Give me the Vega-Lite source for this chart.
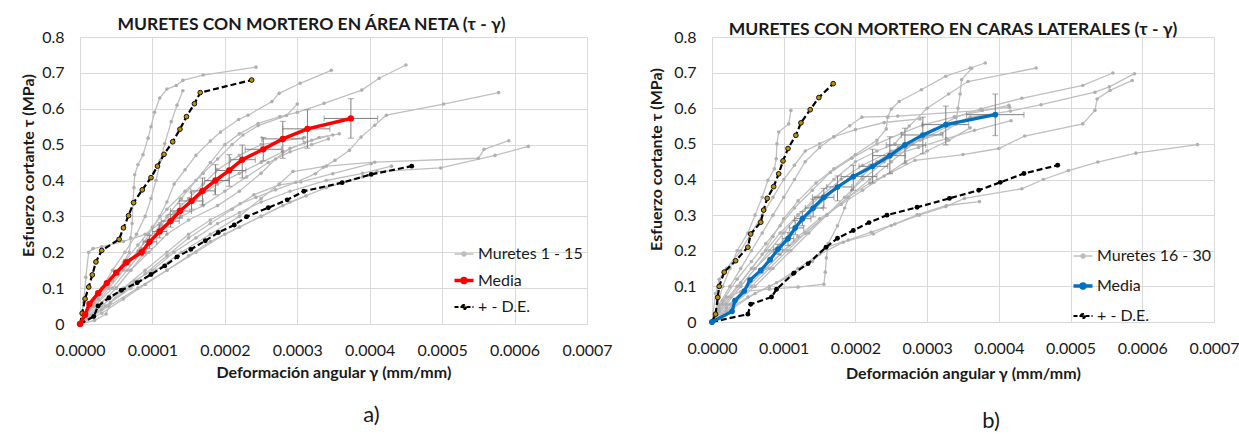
{
  "$schema": "https://vega.github.io/schema/vega-lite/v6.json",
  "padding": {"left": 19, "top": 15, "right": 0, "bottom": 0},
  "config": {
    "font": "Lato",
    "view": {"stroke": null},
    "axis": {"domainColor": "#D9D9D9", "gridColor": "#D9D9D9", "ticks": false, "labelFontSize": 16, "labelColor": "#1a1a1a", "labelFont": "Lato", "titleFont": "Lato", "titleFontSize": 16, "titleFontWeight": "bold", "titleColor": "#1a1a1a", "labelFlush": false, "labelOverlap": false},
    "axisX": {"labelPadding": 18},
    "axisY": {"labelPadding": 16},
    "title": {"font": "Lato", "fontSize": 17.5, "fontWeight": "bold", "color": "#1a1a1a", "anchor": "middle"}
  },
  "datasets": {
    "gA": [
      {"s":1,"x":0,"y":0},{"s":1,"x":0.1e-4,"y":0.03},{"s":1,"x":0.2e-4,"y":0.065},{"s":1,"x":0.35e-4,"y":0.1},{"s":1,"x":0.5e-4,"y":0.14},{"s":1,"x":0.6e-4,"y":0.17},{"s":1,"x":0.68e-4,"y":0.2},{"s":1,"x":0.7e-4,"y":0.24},{"s":1,"x":0.72e-4,"y":0.28},{"s":1,"x":0.73e-4,"y":0.34},{"s":1,"x":0.745e-4,"y":0.38},{"s":1,"x":0.755e-4,"y":0.416},{"s":1,"x":0.8e-4,"y":0.444},{"s":1,"x":0.87e-4,"y":0.472},{"s":1,"x":0.94e-4,"y":0.518},{"s":1,"x":0.98e-4,"y":0.55},{"s":1,"x":1.03e-4,"y":0.59},{"s":1,"x":1.1e-4,"y":0.63},{"s":1,"x":1.2e-4,"y":0.655},{"s":1,"x":1.33e-4,"y":0.665},{"s":1,"x":1.42e-4,"y":0.679},{"s":1,"x":1.7e-4,"y":0.694},{"s":1,"x":2.43e-4,"y":0.716},
      {"s":2,"x":0,"y":0},{"s":2,"x":0.15e-4,"y":0.05},{"s":2,"x":0.3e-4,"y":0.1},{"s":2,"x":0.45e-4,"y":0.15},{"s":2,"x":0.62e-4,"y":0.2},{"s":2,"x":0.78e-4,"y":0.25},{"s":2,"x":0.9e-4,"y":0.3},{"s":2,"x":0.98e-4,"y":0.35},{"s":2,"x":1.05e-4,"y":0.4},{"s":2,"x":1.11e-4,"y":0.456},{"s":2,"x":1.17e-4,"y":0.503},{"s":2,"x":1.26e-4,"y":0.564},{"s":2,"x":1.34e-4,"y":0.61},{"s":2,"x":1.42e-4,"y":0.65},
      {"s":3,"x":0,"y":0},{"s":3,"x":0.2e-4,"y":0.05},{"s":3,"x":0.4e-4,"y":0.1},{"s":3,"x":0.6e-4,"y":0.15},{"s":3,"x":0.8e-4,"y":0.2},{"s":3,"x":0.95e-4,"y":0.25},{"s":3,"x":1.1e-4,"y":0.3},{"s":3,"x":1.2e-4,"y":0.34},{"s":3,"x":1.3e-4,"y":0.39},{"s":3,"x":1.45e-4,"y":0.43},{"s":3,"x":1.6e-4,"y":0.47},{"s":3,"x":1.8e-4,"y":0.51},{"s":3,"x":1.94e-4,"y":0.535},{"s":3,"x":2.19e-4,"y":0.57},{"s":3,"x":2.32e-4,"y":0.582},{"s":3,"x":2.65e-4,"y":0.62},{"s":3,"x":2.75e-4,"y":0.643},{"s":3,"x":3.04e-4,"y":0.671},{"s":3,"x":3.47e-4,"y":0.707},
      {"s":4,"x":0,"y":0},{"s":4,"x":0.25e-4,"y":0.05},{"s":4,"x":0.5e-4,"y":0.1},{"s":4,"x":0.7e-4,"y":0.15},{"s":4,"x":0.9e-4,"y":0.2},{"s":4,"x":1.05e-4,"y":0.25},{"s":4,"x":1.2e-4,"y":0.3},{"s":4,"x":1.4e-4,"y":0.35},{"s":4,"x":1.6e-4,"y":0.4},{"s":4,"x":1.8e-4,"y":0.45},{"s":4,"x":2.0e-4,"y":0.5},{"s":4,"x":2.2e-4,"y":0.53},{"s":4,"x":2.46e-4,"y":0.559},{"s":4,"x":2.76e-4,"y":0.578},{"s":4,"x":3.0e-4,"y":0.59},{"s":4,"x":3.37e-4,"y":0.615},{"s":4,"x":3.89e-4,"y":0.652},{"s":4,"x":4.13e-4,"y":0.685},{"s":4,"x":4.5e-4,"y":0.722},
      {"s":5,"x":0,"y":0},{"s":5,"x":0.3e-4,"y":0.05},{"s":5,"x":0.6e-4,"y":0.1},{"s":5,"x":0.9e-4,"y":0.15},{"s":5,"x":1.2e-4,"y":0.2},{"s":5,"x":1.5e-4,"y":0.25},{"s":5,"x":1.8e-4,"y":0.29},{"s":5,"x":2.21e-4,"y":0.335},{"s":5,"x":2.43e-4,"y":0.353},{"s":5,"x":2.7e-4,"y":0.374},{"s":5,"x":2.98e-4,"y":0.395},{"s":5,"x":3.25e-4,"y":0.419},{"s":5,"x":3.36e-4,"y":0.437},{"s":5,"x":3.52e-4,"y":0.456},{"s":5,"x":3.72e-4,"y":0.484},{"s":5,"x":3.88e-4,"y":0.521},{"s":5,"x":4.07e-4,"y":0.554},{"s":5,"x":4.23e-4,"y":0.582},{"s":5,"x":5.02e-4,"y":0.613},{"s":5,"x":5.78e-4,"y":0.645},
      {"s":6,"x":0,"y":0},{"s":6,"x":0.35e-4,"y":0.05},{"s":6,"x":0.7e-4,"y":0.1},{"s":6,"x":1.05e-4,"y":0.15},{"s":6,"x":1.4e-4,"y":0.2},{"s":6,"x":1.8e-4,"y":0.25},{"s":6,"x":2.2e-4,"y":0.3},{"s":6,"x":2.5e-4,"y":0.35},{"s":6,"x":2.75e-4,"y":0.39},{"s":6,"x":2.94e-4,"y":0.425},{"s":6,"x":3.4e-4,"y":0.44},{"s":6,"x":4.07e-4,"y":0.451},{"s":6,"x":5.5e-4,"y":0.462},{"s":6,"x":5.58e-4,"y":0.487},{"s":6,"x":5.92e-4,"y":0.511},
      {"s":7,"x":0,"y":0},{"s":7,"x":0.4e-4,"y":0.05},{"s":7,"x":0.8e-4,"y":0.1},{"s":7,"x":1.2e-4,"y":0.15},{"s":7,"x":1.6e-4,"y":0.2},{"s":7,"x":2.0e-4,"y":0.25},{"s":7,"x":2.5e-4,"y":0.3},{"s":7,"x":2.9e-4,"y":0.34},{"s":7,"x":3.4e-4,"y":0.38},{"s":7,"x":3.9e-4,"y":0.41},{"s":7,"x":4.1e-4,"y":0.425},{"s":7,"x":4.98e-4,"y":0.435},{"s":7,"x":5.73e-4,"y":0.47},{"s":7,"x":6.19e-4,"y":0.495},
      {"s":8,"x":0,"y":0},{"s":8,"x":0.2e-4,"y":0.05},{"s":8,"x":0.45e-4,"y":0.1},{"s":8,"x":0.65e-4,"y":0.15},{"s":8,"x":0.85e-4,"y":0.2},{"s":8,"x":1.05e-4,"y":0.25},{"s":8,"x":1.3e-4,"y":0.3},{"s":8,"x":1.6e-4,"y":0.35},{"s":8,"x":1.9e-4,"y":0.39},{"s":8,"x":2.2e-4,"y":0.42},{"s":8,"x":2.5e-4,"y":0.45},{"s":8,"x":2.8e-4,"y":0.48},{"s":8,"x":3.1e-4,"y":0.505},{"s":8,"x":3.3e-4,"y":0.52},{"s":8,"x":3.58e-4,"y":0.53},
      {"s":9,"x":0,"y":0},{"s":9,"x":0.3e-4,"y":0.06},{"s":9,"x":0.5e-4,"y":0.1},{"s":9,"x":0.7e-4,"y":0.15},{"s":9,"x":0.95e-4,"y":0.2},{"s":9,"x":1.2e-4,"y":0.25},{"s":9,"x":1.5e-4,"y":0.29},{"s":9,"x":1.9e-4,"y":0.33},{"s":9,"x":2.2e-4,"y":0.37},{"s":9,"x":2.5e-4,"y":0.42},{"s":9,"x":2.7e-4,"y":0.46},{"s":9,"x":2.9e-4,"y":0.49},{"s":9,"x":3.2e-4,"y":0.512},{"s":9,"x":3.49e-4,"y":0.527},
      {"s":10,"x":0,"y":0},{"s":10,"x":0.25e-4,"y":0.07},{"s":10,"x":0.45e-4,"y":0.12},{"s":10,"x":0.7e-4,"y":0.18},{"s":10,"x":0.9e-4,"y":0.23},{"s":10,"x":1.1e-4,"y":0.27},{"s":10,"x":1.4e-4,"y":0.3},{"s":10,"x":1.7e-4,"y":0.33},{"s":10,"x":2.0e-4,"y":0.37},{"s":10,"x":2.3e-4,"y":0.41},{"s":10,"x":2.6e-4,"y":0.45},{"s":10,"x":2.9e-4,"y":0.48},{"s":10,"x":3.2e-4,"y":0.5},{"s":10,"x":3.43e-4,"y":0.516},
      {"s":11,"x":0,"y":0},{"s":11,"x":0.2e-4,"y":0.06},{"s":11,"x":0.4e-4,"y":0.12},{"s":11,"x":0.6e-4,"y":0.17},{"s":11,"x":0.8e-4,"y":0.22},{"s":11,"x":1.0e-4,"y":0.27},{"s":11,"x":1.2e-4,"y":0.32},{"s":11,"x":1.45e-4,"y":0.37},{"s":11,"x":1.7e-4,"y":0.42},{"s":11,"x":1.9e-4,"y":0.46},{"s":11,"x":2.1e-4,"y":0.5},{"s":11,"x":2.25e-4,"y":0.527},{"s":11,"x":2.46e-4,"y":0.553},{"s":11,"x":2.85e-4,"y":0.581},{"s":11,"x":3.0e-4,"y":0.613},
      {"s":12,"x":0,"y":0},{"s":12,"x":0.3e-4,"y":0.03},{"s":12,"x":0.6e-4,"y":0.07},{"s":12,"x":0.9e-4,"y":0.11},{"s":12,"x":1.2e-4,"y":0.15},{"s":12,"x":1.5e-4,"y":0.19},{"s":12,"x":1.8e-4,"y":0.23},{"s":12,"x":2.2e-4,"y":0.27},{"s":12,"x":2.5e-4,"y":0.3},{"s":12,"x":2.8e-4,"y":0.33},{"s":12,"x":3.12e-4,"y":0.357},
      {"s":13,"x":0,"y":0},{"s":13,"x":0.3e-4,"y":0.04},{"s":13,"x":0.6e-4,"y":0.09},{"s":13,"x":0.9e-4,"y":0.14},{"s":13,"x":1.2e-4,"y":0.19},{"s":13,"x":1.5e-4,"y":0.24},{"s":13,"x":1.8e-4,"y":0.28},{"s":13,"x":2.1e-4,"y":0.32},{"s":13,"x":2.4e-4,"y":0.36},{"s":13,"x":2.75e-4,"y":0.388},{"s":13,"x":3.05e-4,"y":0.396},{"s":13,"x":3.49e-4,"y":0.419},{"s":13,"x":4.02e-4,"y":0.447},
      {"s":14,"x":0,"y":0},{"s":14,"x":0.2e-4,"y":0.01},{"s":14,"x":0.36e-4,"y":0.028},{"s":14,"x":0.42e-4,"y":0.06},{"s":14,"x":0.55e-4,"y":0.09},{"s":14,"x":0.75e-4,"y":0.12},{"s":14,"x":1.0e-4,"y":0.15},{"s":14,"x":1.3e-4,"y":0.2},{"s":14,"x":1.6e-4,"y":0.24},{"s":14,"x":1.9e-4,"y":0.28},{"s":14,"x":2.2e-4,"y":0.31},{"s":14,"x":2.5e-4,"y":0.34},{"s":14,"x":2.9e-4,"y":0.37},{"s":14,"x":3.4e-4,"y":0.4},{"s":14,"x":3.9e-4,"y":0.42},{"s":14,"x":4.3e-4,"y":0.44},
      {"s":15,"x":0,"y":0},{"s":15,"x":0.05e-4,"y":0.06},{"s":15,"x":0.08e-4,"y":0.13},{"s":15,"x":0.12e-4,"y":0.2},{"s":15,"x":0.18e-4,"y":0.21},{"s":15,"x":0.3e-4,"y":0.215},{"s":15,"x":0.6e-4,"y":0.23},{"s":15,"x":0.9e-4,"y":0.25},{"s":15,"x":1.1e-4,"y":0.28},{"s":15,"x":1.3e-4,"y":0.31},{"s":15,"x":1.5e-4,"y":0.35},{"s":15,"x":1.7e-4,"y":0.39},{"s":15,"x":1.9e-4,"y":0.43},{"s":15,"x":2.2e-4,"y":0.47},{"s":15,"x":2.5e-4,"y":0.5},{"s":15,"x":2.8e-4,"y":0.51},{"s":15,"x":3.1e-4,"y":0.52}
    ],
    "mA": [
      {"x":0,"y":0},{"x":0.07e-4,"y":0.026},{"x":0.13e-4,"y":0.056},{"x":0.25e-4,"y":0.086},{"x":0.37e-4,"y":0.114},{"x":0.5e-4,"y":0.143},{"x":0.64e-4,"y":0.172},{"x":0.85e-4,"y":0.2},{"x":0.96e-4,"y":0.229},{"x":1.1e-4,"y":0.258},{"x":1.25e-4,"y":0.287},{"x":1.38e-4,"y":0.315},{"x":1.54e-4,"y":0.343},{"x":1.69e-4,"y":0.371},{"x":1.87e-4,"y":0.4},{"x":2.06e-4,"y":0.428},{"x":2.24e-4,"y":0.458},{"x":2.53e-4,"y":0.487},{"x":2.8e-4,"y":0.516},{"x":3.14e-4,"y":0.544},{"x":3.74e-4,"y":0.573}
    ],
    "dA": [
      {"s":"up","x":0,"y":0},{"s":"up","x":0.03e-4,"y":0.03},{"s":"up","x":0.07e-4,"y":0.07},{"s":"up","x":0.12e-4,"y":0.103},{"s":"up","x":0.17e-4,"y":0.137},{"s":"up","x":0.22e-4,"y":0.173},{"s":"up","x":0.3e-4,"y":0.205},{"s":"up","x":0.54e-4,"y":0.236},{"s":"up","x":0.6e-4,"y":0.268},{"s":"up","x":0.67e-4,"y":0.302},{"s":"up","x":0.74e-4,"y":0.338},{"s":"up","x":0.86e-4,"y":0.374},{"s":"up","x":0.98e-4,"y":0.408},{"s":"up","x":1.07e-4,"y":0.44},{"s":"up","x":1.16e-4,"y":0.473},{"s":"up","x":1.28e-4,"y":0.508},{"s":"up","x":1.38e-4,"y":0.543},{"s":"up","x":1.47e-4,"y":0.578},{"s":"up","x":1.58e-4,"y":0.614},{"s":"up","x":1.66e-4,"y":0.645},{"s":"up","x":2.37e-4,"y":0.68},
      {"s":"lo","x":0,"y":0},{"s":"lo","x":0.19e-4,"y":0.021},{"s":"lo","x":0.25e-4,"y":0.05},{"s":"lo","x":0.4e-4,"y":0.073},{"s":"lo","x":0.57e-4,"y":0.094},{"s":"lo","x":0.79e-4,"y":0.115},{"s":"lo","x":0.98e-4,"y":0.138},{"s":"lo","x":1.17e-4,"y":0.162},{"s":"lo","x":1.34e-4,"y":0.187},{"s":"lo","x":1.53e-4,"y":0.208},{"s":"lo","x":1.73e-4,"y":0.232},{"s":"lo","x":1.91e-4,"y":0.255},{"s":"lo","x":2.13e-4,"y":0.276},{"s":"lo","x":2.3e-4,"y":0.299},{"s":"lo","x":2.6e-4,"y":0.324},{"s":"lo","x":2.86e-4,"y":0.346},{"s":"lo","x":3.09e-4,"y":0.37},{"s":"lo","x":3.62e-4,"y":0.394},{"s":"lo","x":4.02e-4,"y":0.417},{"s":"lo","x":4.58e-4,"y":0.44}
    ],
    "eA": [
      {"x":0.64e-4,"y":0.172,"xlo":0.6e-4,"xhi":0.69e-4,"ylo":0.164,"yhi":0.18},
      {"x":0.85e-4,"y":0.2,"xlo":0.79e-4,"xhi":0.91e-4,"ylo":0.19,"yhi":0.212},
      {"x":0.96e-4,"y":0.229,"xlo":0.87e-4,"xhi":1.06e-4,"ylo":0.21,"yhi":0.247},
      {"x":1.1e-4,"y":0.258,"xlo":1.0e-4,"xhi":1.2e-4,"ylo":0.24,"yhi":0.276},
      {"x":1.25e-4,"y":0.287,"xlo":1.12e-4,"xhi":1.37e-4,"ylo":0.27,"yhi":0.305},
      {"x":1.38e-4,"y":0.315,"xlo":1.25e-4,"xhi":1.54e-4,"ylo":0.295,"yhi":0.335},
      {"x":1.54e-4,"y":0.343,"xlo":1.37e-4,"xhi":1.7e-4,"ylo":0.32,"yhi":0.368},
      {"x":1.69e-4,"y":0.371,"xlo":1.53e-4,"xhi":1.86e-4,"ylo":0.332,"yhi":0.407},
      {"x":1.87e-4,"y":0.4,"xlo":1.72e-4,"xhi":2.06e-4,"ylo":0.36,"yhi":0.444},
      {"x":2.06e-4,"y":0.428,"xlo":1.88e-4,"xhi":2.29e-4,"ylo":0.384,"yhi":0.472},
      {"x":2.24e-4,"y":0.458,"xlo":2.08e-4,"xhi":2.42e-4,"ylo":0.407,"yhi":0.499},
      {"x":2.53e-4,"y":0.487,"xlo":2.28e-4,"xhi":2.78e-4,"ylo":0.455,"yhi":0.52},
      {"x":2.8e-4,"y":0.516,"xlo":2.51e-4,"xhi":3.08e-4,"ylo":0.462,"yhi":0.565},
      {"x":3.14e-4,"y":0.544,"xlo":2.8e-4,"xhi":3.45e-4,"ylo":0.49,"yhi":0.597},
      {"x":3.74e-4,"y":0.573,"xlo":3.37e-4,"xhi":4.11e-4,"ylo":0.518,"yhi":0.628}
    ],
    "gB": [
      {"s":16,"x":0,"y":0},{"s":16,"x":0.1e-4,"y":0.03},{"s":16,"x":0.25e-4,"y":0.07},{"s":16,"x":0.4e-4,"y":0.11},{"s":16,"x":0.55e-4,"y":0.15},{"s":16,"x":0.7e-4,"y":0.19},{"s":16,"x":0.85e-4,"y":0.24},{"s":16,"x":1.0e-4,"y":0.29},{"s":16,"x":1.2e-4,"y":0.34},{"s":16,"x":1.45e-4,"y":0.39},{"s":16,"x":1.7e-4,"y":0.43},{"s":16,"x":2.0e-4,"y":0.47},{"s":16,"x":2.3e-4,"y":0.51},{"s":16,"x":2.43e-4,"y":0.542},{"s":16,"x":2.45e-4,"y":0.575},{"s":16,"x":2.5e-4,"y":0.598},{"s":16,"x":2.61e-4,"y":0.619},{"s":16,"x":2.92e-4,"y":0.652},{"s":16,"x":3.26e-4,"y":0.69},{"s":16,"x":3.6e-4,"y":0.713},{"s":16,"x":3.81e-4,"y":0.727},
      {"s":17,"x":0,"y":0},{"s":17,"x":0.2e-4,"y":0.05},{"s":17,"x":0.4e-4,"y":0.1},{"s":17,"x":0.6e-4,"y":0.15},{"s":17,"x":0.8e-4,"y":0.2},{"s":17,"x":1.0e-4,"y":0.25},{"s":17,"x":1.2e-4,"y":0.3},{"s":17,"x":1.45e-4,"y":0.35},{"s":17,"x":1.7e-4,"y":0.4},{"s":17,"x":2.0e-4,"y":0.45},{"s":17,"x":2.3e-4,"y":0.48},{"s":17,"x":2.55e-4,"y":0.5},{"s":17,"x":2.75e-4,"y":0.55},{"s":17,"x":3.0e-4,"y":0.6},{"s":17,"x":3.3e-4,"y":0.64},{"s":17,"x":3.57e-4,"y":0.675},{"s":17,"x":4.52e-4,"y":0.713},
      {"s":18,"x":0,"y":0},{"s":18,"x":0.15e-4,"y":0.05},{"s":18,"x":0.35e-4,"y":0.1},{"s":18,"x":0.55e-4,"y":0.15},{"s":18,"x":0.75e-4,"y":0.2},{"s":18,"x":0.95e-4,"y":0.25},{"s":18,"x":1.2e-4,"y":0.3},{"s":18,"x":1.5e-4,"y":0.35},{"s":18,"x":1.8e-4,"y":0.4},{"s":18,"x":2.1e-4,"y":0.44},{"s":18,"x":2.5e-4,"y":0.48},{"s":18,"x":2.9e-4,"y":0.51},{"s":18,"x":3.2e-4,"y":0.53},{"s":18,"x":3.4e-4,"y":0.555},{"s":18,"x":3.43e-4,"y":0.6},{"s":18,"x":3.46e-4,"y":0.64},{"s":18,"x":3.48e-4,"y":0.68},{"s":18,"x":3.62e-4,"y":0.712},
      {"s":19,"x":0,"y":0},{"s":19,"x":0.25e-4,"y":0.05},{"s":19,"x":0.5e-4,"y":0.1},{"s":19,"x":0.75e-4,"y":0.15},{"s":19,"x":1.0e-4,"y":0.2},{"s":19,"x":1.3e-4,"y":0.25},{"s":19,"x":1.6e-4,"y":0.3},{"s":19,"x":1.9e-4,"y":0.35},{"s":19,"x":2.2e-4,"y":0.4},{"s":19,"x":2.5e-4,"y":0.45},{"s":19,"x":2.8e-4,"y":0.5},{"s":19,"x":3.1e-4,"y":0.54},{"s":19,"x":3.4e-4,"y":0.575},{"s":19,"x":3.75e-4,"y":0.598},{"s":19,"x":4.32e-4,"y":0.628},{"s":19,"x":5.17e-4,"y":0.664},{"s":19,"x":5.59e-4,"y":0.699},
      {"s":20,"x":0,"y":0},{"s":20,"x":0.3e-4,"y":0.05},{"s":20,"x":0.6e-4,"y":0.1},{"s":20,"x":0.85e-4,"y":0.15},{"s":20,"x":1.1e-4,"y":0.2},{"s":20,"x":1.35e-4,"y":0.25},{"s":20,"x":1.6e-4,"y":0.3},{"s":20,"x":1.85e-4,"y":0.35},{"s":20,"x":2.1e-4,"y":0.4},{"s":20,"x":2.4e-4,"y":0.45},{"s":20,"x":2.7e-4,"y":0.49},{"s":20,"x":3.0e-4,"y":0.52},{"s":20,"x":3.3e-4,"y":0.55},{"s":20,"x":3.6e-4,"y":0.575},{"s":20,"x":4.16e-4,"y":0.592},{"s":20,"x":4.59e-4,"y":0.61},{"s":20,"x":5.34e-4,"y":0.645},{"s":20,"x":5.54e-4,"y":0.66},{"s":20,"x":5.89e-4,"y":0.697},
      {"s":21,"x":0,"y":0},{"s":21,"x":0.3e-4,"y":0.05},{"s":21,"x":0.55e-4,"y":0.1},{"s":21,"x":0.8e-4,"y":0.15},{"s":21,"x":1.05e-4,"y":0.2},{"s":21,"x":1.3e-4,"y":0.25},{"s":21,"x":1.6e-4,"y":0.3},{"s":21,"x":1.9e-4,"y":0.35},{"s":21,"x":2.2e-4,"y":0.39},{"s":21,"x":2.5e-4,"y":0.42},{"s":21,"x":2.83e-4,"y":0.454},{"s":21,"x":3.5e-4,"y":0.47},{"s":21,"x":4.0e-4,"y":0.487},{"s":21,"x":4.36e-4,"y":0.522},{"s":21,"x":5.17e-4,"y":0.556},{"s":21,"x":5.34e-4,"y":0.594},{"s":21,"x":5.37e-4,"y":0.626},{"s":21,"x":5.55e-4,"y":0.65},{"s":21,"x":5.86e-4,"y":0.678},
      {"s":22,"x":0,"y":0},{"s":22,"x":0.2e-4,"y":0.03},{"s":22,"x":0.5e-4,"y":0.07},{"s":22,"x":0.8e-4,"y":0.1},{"s":22,"x":1.1e-4,"y":0.13},{"s":22,"x":1.4e-4,"y":0.17},{"s":22,"x":1.6e-4,"y":0.21},{"s":22,"x":1.9e-4,"y":0.23},{"s":22,"x":2.22e-4,"y":0.252},{"s":22,"x":2.55e-4,"y":0.275},{"s":22,"x":2.89e-4,"y":0.3},{"s":22,"x":3.26e-4,"y":0.324},{"s":22,"x":3.52e-4,"y":0.347},{"s":22,"x":4.32e-4,"y":0.374},{"s":22,"x":4.62e-4,"y":0.4},{"s":22,"x":4.97e-4,"y":0.425},{"s":22,"x":5.38e-4,"y":0.449},{"s":22,"x":5.91e-4,"y":0.474},{"s":22,"x":6.77e-4,"y":0.498},
      {"s":23,"x":0,"y":0},{"s":23,"x":0.3e-4,"y":0.04},{"s":23,"x":0.6e-4,"y":0.08},{"s":23,"x":0.9e-4,"y":0.11},{"s":23,"x":1.2e-4,"y":0.15},{"s":23,"x":1.5e-4,"y":0.19},{"s":23,"x":1.83e-4,"y":0.224},{"s":23,"x":2.25e-4,"y":0.247},{"s":23,"x":2.5e-4,"y":0.271},{"s":23,"x":2.86e-4,"y":0.301},{"s":23,"x":3.27e-4,"y":0.327},{"s":23,"x":3.73e-4,"y":0.338},
      {"s":24,"x":0,"y":0},{"s":24,"x":0.08e-4,"y":0.05},{"s":24,"x":0.15e-4,"y":0.1},{"s":24,"x":0.25e-4,"y":0.15},{"s":24,"x":0.35e-4,"y":0.2},{"s":24,"x":0.5e-4,"y":0.25},{"s":24,"x":0.6e-4,"y":0.3},{"s":24,"x":0.7e-4,"y":0.35},{"s":24,"x":0.78e-4,"y":0.398},{"s":24,"x":0.87e-4,"y":0.43},{"s":24,"x":0.895e-4,"y":0.458},{"s":24,"x":0.905e-4,"y":0.5},{"s":24,"x":0.93e-4,"y":0.533},{"s":24,"x":1.07e-4,"y":0.556},{"s":24,"x":1.1e-4,"y":0.594},
      {"s":25,"x":0,"y":0},{"s":25,"x":0.1e-4,"y":0.04},{"s":25,"x":0.2e-4,"y":0.07},{"s":25,"x":0.4e-4,"y":0.085},{"s":25,"x":0.8e-4,"y":0.092},{"s":25,"x":1.2e-4,"y":0.098},{"s":25,"x":1.56e-4,"y":0.106},{"s":25,"x":1.58e-4,"y":0.14},{"s":25,"x":1.595e-4,"y":0.18},{"s":25,"x":1.62e-4,"y":0.22},{"s":25,"x":1.75e-4,"y":0.27},{"s":25,"x":1.85e-4,"y":0.32},{"s":25,"x":1.95e-4,"y":0.37},{"s":25,"x":2.1e-4,"y":0.41},{"s":25,"x":2.3e-4,"y":0.45},{"s":25,"x":2.6e-4,"y":0.49},
      {"s":26,"x":0,"y":0},{"s":26,"x":0.2e-4,"y":0.05},{"s":26,"x":0.4e-4,"y":0.1},{"s":26,"x":0.6e-4,"y":0.15},{"s":26,"x":0.85e-4,"y":0.2},{"s":26,"x":1.1e-4,"y":0.25},{"s":26,"x":1.35e-4,"y":0.3},{"s":26,"x":1.6e-4,"y":0.35},{"s":26,"x":1.9e-4,"y":0.4},{"s":26,"x":2.2e-4,"y":0.44},{"s":26,"x":2.55e-4,"y":0.47},{"s":26,"x":2.88e-4,"y":0.49},{"s":26,"x":3.27e-4,"y":0.515},{"s":26,"x":3.66e-4,"y":0.538},{"s":26,"x":4.17e-4,"y":0.565},
      {"s":27,"x":0,"y":0},{"s":27,"x":0.15e-4,"y":0.06},{"s":27,"x":0.35e-4,"y":0.12},{"s":27,"x":0.55e-4,"y":0.17},{"s":27,"x":0.75e-4,"y":0.22},{"s":27,"x":0.95e-4,"y":0.27},{"s":27,"x":1.15e-4,"y":0.32},{"s":27,"x":1.4e-4,"y":0.37},{"s":27,"x":1.65e-4,"y":0.42},{"s":27,"x":1.95e-4,"y":0.46},{"s":27,"x":2.3e-4,"y":0.5},{"s":27,"x":2.65e-4,"y":0.53},{"s":27,"x":2.94e-4,"y":0.553},{"s":27,"x":3.38e-4,"y":0.576},{"s":27,"x":4.14e-4,"y":0.608},
      {"s":28,"x":0,"y":0},{"s":28,"x":0.1e-4,"y":0.05},{"s":28,"x":0.25e-4,"y":0.1},{"s":28,"x":0.4e-4,"y":0.15},{"s":28,"x":0.55e-4,"y":0.2},{"s":28,"x":0.7e-4,"y":0.25},{"s":28,"x":0.85e-4,"y":0.3},{"s":28,"x":1.0e-4,"y":0.35},{"s":28,"x":1.15e-4,"y":0.4},{"s":28,"x":1.3e-4,"y":0.45},{"s":28,"x":1.5e-4,"y":0.49},{"s":28,"x":1.7e-4,"y":0.52},{"s":28,"x":1.92e-4,"y":0.551},{"s":28,"x":2.09e-4,"y":0.575},{"s":28,"x":2.59e-4,"y":0.578},{"s":28,"x":3.77e-4,"y":0.594},{"s":28,"x":4.15e-4,"y":0.603},
      {"s":29,"x":0,"y":0},{"s":29,"x":0.2e-4,"y":0.04},{"s":29,"x":0.45e-4,"y":0.09},{"s":29,"x":0.7e-4,"y":0.14},{"s":29,"x":0.95e-4,"y":0.19},{"s":29,"x":1.2e-4,"y":0.24},{"s":29,"x":1.5e-4,"y":0.29},{"s":29,"x":1.8e-4,"y":0.33},{"s":29,"x":2.1e-4,"y":0.37},{"s":29,"x":2.4e-4,"y":0.41},{"s":29,"x":2.7e-4,"y":0.45},{"s":29,"x":3.0e-4,"y":0.48},{"s":29,"x":3.3e-4,"y":0.51},{"s":29,"x":3.6e-4,"y":0.545},
      {"s":30,"x":0,"y":0},{"s":30,"x":0.05e-4,"y":0.08},{"s":30,"x":0.1e-4,"y":0.12},{"s":30,"x":0.2e-4,"y":0.15},{"s":30,"x":0.4e-4,"y":0.2},{"s":30,"x":0.55e-4,"y":0.25},{"s":30,"x":0.7e-4,"y":0.3},{"s":30,"x":0.85e-4,"y":0.35},{"s":30,"x":1.0e-4,"y":0.4},{"s":30,"x":1.15e-4,"y":0.44},{"s":30,"x":1.3e-4,"y":0.48},{"s":30,"x":1.5e-4,"y":0.5},{"s":30,"x":1.7e-4,"y":0.52},{"s":30,"x":2.0e-4,"y":0.54},{"s":30,"x":2.4e-4,"y":0.56},{"s":30,"x":2.9e-4,"y":0.57}
    ],
    "mB": [
      {"x":0,"y":0},{"x":0.28e-4,"y":0.03},{"x":0.32e-4,"y":0.06},{"x":0.45e-4,"y":0.087},{"x":0.53e-4,"y":0.118},{"x":0.68e-4,"y":0.145},{"x":0.81e-4,"y":0.175},{"x":0.92e-4,"y":0.204},{"x":1.06e-4,"y":0.234},{"x":1.16e-4,"y":0.264},{"x":1.26e-4,"y":0.29},{"x":1.41e-4,"y":0.32},{"x":1.56e-4,"y":0.35},{"x":1.75e-4,"y":0.379},{"x":1.97e-4,"y":0.408},{"x":2.24e-4,"y":0.437},{"x":2.48e-4,"y":0.467},{"x":2.69e-4,"y":0.497},{"x":2.94e-4,"y":0.525},{"x":3.26e-4,"y":0.554},{"x":3.95e-4,"y":0.582}
    ],
    "dB": [
      {"s":"up","x":0,"y":0},{"s":"up","x":0.05e-4,"y":0.022},{"s":"up","x":0.08e-4,"y":0.069},{"s":"up","x":0.1e-4,"y":0.1},{"s":"up","x":0.17e-4,"y":0.14},{"s":"up","x":0.33e-4,"y":0.172},{"s":"up","x":0.5e-4,"y":0.21},{"s":"up","x":0.54e-4,"y":0.247},{"s":"up","x":0.68e-4,"y":0.28},{"s":"up","x":0.72e-4,"y":0.314},{"s":"up","x":0.77e-4,"y":0.347},{"s":"up","x":0.86e-4,"y":0.38},{"s":"up","x":0.93e-4,"y":0.416},{"s":"up","x":0.99e-4,"y":0.452},{"s":"up","x":1.06e-4,"y":0.487},{"s":"up","x":1.17e-4,"y":0.524},{"s":"up","x":1.24e-4,"y":0.559},{"s":"up","x":1.37e-4,"y":0.596},{"s":"up","x":1.49e-4,"y":0.63},{"s":"up","x":1.69e-4,"y":0.669},
      {"s":"lo","x":0,"y":0},{"s":"lo","x":0.5e-4,"y":0.022},{"s":"lo","x":0.54e-4,"y":0.05},{"s":"lo","x":0.83e-4,"y":0.07},{"s":"lo","x":0.9e-4,"y":0.092},{"s":"lo","x":1.14e-4,"y":0.137},{"s":"lo","x":1.34e-4,"y":0.164},{"s":"lo","x":1.59e-4,"y":0.21},{"s":"lo","x":1.75e-4,"y":0.235},{"s":"lo","x":1.97e-4,"y":0.257},{"s":"lo","x":2.19e-4,"y":0.279},{"s":"lo","x":2.44e-4,"y":0.3},{"s":"lo","x":2.86e-4,"y":0.322},{"s":"lo","x":3.31e-4,"y":0.347},{"s":"lo","x":3.72e-4,"y":0.37},{"s":"lo","x":4.02e-4,"y":0.392},{"s":"lo","x":4.35e-4,"y":0.417},{"s":"lo","x":4.82e-4,"y":0.44}
    ],
    "eB": [
      {"x":0.92e-4,"y":0.204,"xlo":0.86e-4,"xhi":0.98e-4,"ylo":0.19,"yhi":0.218},
      {"x":1.06e-4,"y":0.234,"xlo":0.98e-4,"xhi":1.14e-4,"ylo":0.215,"yhi":0.252},
      {"x":1.16e-4,"y":0.264,"xlo":1.08e-4,"xhi":1.28e-4,"ylo":0.245,"yhi":0.285},
      {"x":1.26e-4,"y":0.29,"xlo":1.15e-4,"xhi":1.38e-4,"ylo":0.27,"yhi":0.31},
      {"x":1.41e-4,"y":0.32,"xlo":1.3e-4,"xhi":1.55e-4,"ylo":0.295,"yhi":0.345},
      {"x":1.56e-4,"y":0.35,"xlo":1.4e-4,"xhi":1.7e-4,"ylo":0.32,"yhi":0.375},
      {"x":1.75e-4,"y":0.379,"xlo":1.6e-4,"xhi":1.95e-4,"ylo":0.34,"yhi":0.41},
      {"x":1.97e-4,"y":0.408,"xlo":1.8e-4,"xhi":2.3e-4,"ylo":0.37,"yhi":0.44},
      {"x":2.24e-4,"y":0.437,"xlo":2.05e-4,"xhi":2.45e-4,"ylo":0.39,"yhi":0.485},
      {"x":2.48e-4,"y":0.467,"xlo":2.24e-4,"xhi":2.7e-4,"ylo":0.416,"yhi":0.52},
      {"x":2.69e-4,"y":0.497,"xlo":2.43e-4,"xhi":2.98e-4,"ylo":0.444,"yhi":0.544},
      {"x":2.94e-4,"y":0.525,"xlo":2.64e-4,"xhi":3.22e-4,"ylo":0.472,"yhi":0.575},
      {"x":3.26e-4,"y":0.554,"xlo":2.93e-4,"xhi":3.58e-4,"ylo":0.497,"yhi":0.606},
      {"x":3.95e-4,"y":0.582,"xlo":3.55e-4,"xhi":4.35e-4,"ylo":0.523,"yhi":0.64}
    ]
  },
  "columns": 2,
  "bounds": "flush",
  "spacing": {"row": 103, "column": 125},
  "resolve": {"scale": {"color": "independent", "x": "independent", "y": "independent"}, "legend": {"color": "independent"}},
  "concat": [
    {
      "width": 507, "height": 287,
      "title": {"text": "MURETES CON MORTERO EN ÁREA NETA (τ - γ)", "dx": -22, "offset": -4},
      "layer": [
        {"data": {"name": "gA"}, "mark": {"type": "line", "strokeWidth": 1.3},
         "encoding": {
           "x": {"field": "x", "type": "quantitative", "scale": {"domain": [0, 0.0007], "nice": false, "zero": false}, "axis": {"title": "Deformación angular γ (mm/mm)", "values": [0, 0.0001, 0.0002, 0.0003, 0.0004, 0.0005, 0.0006, 0.0007], "tickCount": 20, "format": ".4f", "titleY": 40}},
           "y": {"field": "y", "type": "quantitative", "scale": {"domain": [0, 0.8], "nice": false}, "axis": {"title": "Esfuerzo cortante τ (MPa)", "values": [0, 0.1, 0.2, 0.3, 0.4, 0.5, 0.6, 0.7, 0.8], "tickCount": 20, "format": "~g", "titleX": -44, "titleY": 128}},
           "detail": {"field": "s", "type": "nominal"},
           "color": {"datum": "Muretes 1 - 15", "scale": {"domain": ["Muretes 1 - 15", "Media", "+ - D.E."], "range": ["#BFBFBF", "#FF0000", "#000000"]},
             "legend": {"orient": "none", "legendX": 376, "legendY": 209, "title": null, "symbolType": "M-1,0L1,0M-0.22,0A0.22,0.22,0,1,1,0.22,0A0.22,0.22,0,1,1,-0.22,0Z", "symbolSize": 361, "labelFontSize": 16, "labelOffset": 6, "rowPadding": 8.5, "labelColor": "#1a1a1a", "labelFont": "Lato",
               "encode": {"symbols": {"update": {"strokeWidth": {"signal": "datum.value === 'Media' ? 3.5 : datum.value === '+ - D.E.' ? 2 : 1.5"}, "strokeDash": {"signal": "datum.value === '+ - D.E.' ? [4,2] : [1,0]"}, "fill": {"signal": "datum.value === 'Media' ? '#FF0000' : datum.value === '+ - D.E.' ? '#BF9000' : '#B0B0B0'"}, "fillOpacity": {"value": 1}}}}}}
         }},
        {"data": {"name": "gA"}, "mark": {"type": "point", "filled": true, "size": 13, "color": "#B0B0B0", "opacity": 1},
         "encoding": {"x": {"field": "x", "type": "quantitative", "scale": {"domain": [0, 0.0007], "nice": false, "zero": false}}, "y": {"field": "y", "type": "quantitative", "scale": {"domain": [0, 0.8], "nice": false}}}},
        {"data": {"name": "eA"}, "mark": {"type": "rule", "color": "#7F7F7F", "strokeWidth": 1},
         "encoding": {"x": {"field": "xlo", "type": "quantitative", "scale": {"domain": [0, 0.0007], "nice": false, "zero": false}}, "x2": {"field": "xhi"}, "y": {"field": "y", "type": "quantitative", "scale": {"domain": [0, 0.8], "nice": false}}}},
        {"data": {"name": "eA"}, "mark": {"type": "rule", "color": "#7F7F7F", "strokeWidth": 1},
         "encoding": {"x": {"field": "x", "type": "quantitative", "scale": {"domain": [0, 0.0007], "nice": false, "zero": false}}, "y": {"field": "ylo", "type": "quantitative", "scale": {"domain": [0, 0.8], "nice": false}}, "y2": {"field": "yhi"}}},
        {"data": {"name": "eA"}, "mark": {"type": "tick", "orient": "vertical", "color": "#7F7F7F", "size": 6, "thickness": 1},
         "encoding": {"x": {"field": "xlo", "type": "quantitative", "scale": {"domain": [0, 0.0007], "nice": false, "zero": false}}, "y": {"field": "y", "type": "quantitative", "scale": {"domain": [0, 0.8], "nice": false}}}},
        {"data": {"name": "eA"}, "mark": {"type": "tick", "orient": "vertical", "color": "#7F7F7F", "size": 6, "thickness": 1},
         "encoding": {"x": {"field": "xhi", "type": "quantitative", "scale": {"domain": [0, 0.0007], "nice": false, "zero": false}}, "y": {"field": "y", "type": "quantitative", "scale": {"domain": [0, 0.8], "nice": false}}}},
        {"data": {"name": "eA"}, "mark": {"type": "tick", "orient": "horizontal", "color": "#7F7F7F", "size": 6, "thickness": 1},
         "encoding": {"x": {"field": "x", "type": "quantitative", "scale": {"domain": [0, 0.0007], "nice": false, "zero": false}}, "y": {"field": "ylo", "type": "quantitative", "scale": {"domain": [0, 0.8], "nice": false}}}},
        {"data": {"name": "eA"}, "mark": {"type": "tick", "orient": "horizontal", "color": "#7F7F7F", "size": 6, "thickness": 1},
         "encoding": {"x": {"field": "x", "type": "quantitative", "scale": {"domain": [0, 0.0007], "nice": false, "zero": false}}, "y": {"field": "yhi", "type": "quantitative", "scale": {"domain": [0, 0.8], "nice": false}}}},
        {"data": {"name": "dA"}, "mark": {"type": "line", "color": "#000000", "strokeWidth": 2.2, "strokeDash": [6, 3]},
         "encoding": {"x": {"field": "x", "type": "quantitative", "scale": {"domain": [0, 0.0007], "nice": false, "zero": false}}, "y": {"field": "y", "type": "quantitative", "scale": {"domain": [0, 0.8], "nice": false}}, "detail": {"field": "s", "type": "nominal"}}},
        {"data": {"name": "dA"}, "transform": [{"filter": "datum.s === 'up'"}], "mark": {"type": "point", "filled": true, "size": 22, "fill": "#BF9000", "stroke": "#111111", "strokeWidth": 1, "opacity": 1},
         "encoding": {"x": {"field": "x", "type": "quantitative", "scale": {"domain": [0, 0.0007], "nice": false, "zero": false}}, "y": {"field": "y", "type": "quantitative", "scale": {"domain": [0, 0.8], "nice": false}}}},
        {"data": {"name": "dA"}, "transform": [{"filter": "datum.s === 'lo'"}], "mark": {"type": "point", "filled": true, "size": 24, "color": "#000000", "opacity": 1},
         "encoding": {"x": {"field": "x", "type": "quantitative", "scale": {"domain": [0, 0.0007], "nice": false, "zero": false}}, "y": {"field": "y", "type": "quantitative", "scale": {"domain": [0, 0.8], "nice": false}}}},
        {"data": {"name": "mA"}, "mark": {"type": "line", "color": "#FF0000", "strokeWidth": 3.5},
         "encoding": {"x": {"field": "x", "type": "quantitative", "scale": {"domain": [0, 0.0007], "nice": false, "zero": false}}, "y": {"field": "y", "type": "quantitative", "scale": {"domain": [0, 0.8], "nice": false}}}},
        {"data": {"name": "mA"}, "mark": {"type": "point", "filled": true, "size": 40, "color": "#FF0000", "opacity": 1},
         "encoding": {"x": {"field": "x", "type": "quantitative", "scale": {"domain": [0, 0.0007], "nice": false, "zero": false}}, "y": {"field": "y", "type": "quantitative", "scale": {"domain": [0, 0.8], "nice": false}}}}
      ]
    },
    {
      "width": 502, "height": 285,
      "title": {"text": "MURETES CON MORTERO EN CARAS LATERALES (τ - γ)", "dx": -10, "offset": -9},
      "layer": [
        {"data": {"name": "gB"}, "mark": {"type": "line", "strokeWidth": 1.3},
         "encoding": {
           "x": {"field": "x", "type": "quantitative", "scale": {"domain": [0, 0.0007], "nice": false, "zero": false}, "axis": {"title": "Deformación angular γ (mm/mm)", "values": [0, 0.0001, 0.0002, 0.0003, 0.0004, 0.0005, 0.0006, 0.0007], "tickCount": 20, "format": ".4f", "titleY": 43}},
           "y": {"field": "y", "type": "quantitative", "scale": {"domain": [0, 0.8], "nice": false}, "axis": {"title": "Esfuerzo cortante τ (MPa)", "values": [0, 0.1, 0.2, 0.3, 0.4, 0.5, 0.6, 0.7, 0.8], "tickCount": 20, "format": "~g", "titleX": -48, "titleY": 122}},
           "detail": {"field": "s", "type": "nominal"},
           "color": {"datum": "Muretes 16 - 30", "scale": {"domain": ["Muretes 16 - 30", "Media", "+ - D.E."], "range": ["#BFBFBF", "#0070C0", "#000000"]},
             "legend": {"orient": "none", "legendX": 363, "legendY": 211, "title": null, "symbolType": "M-1,0L1,0M-0.22,0A0.22,0.22,0,1,1,0.22,0A0.22,0.22,0,1,1,-0.22,0Z", "symbolSize": 361, "labelFontSize": 16, "labelOffset": 6, "rowPadding": 12, "labelColor": "#1a1a1a", "labelFont": "Lato",
               "encode": {"symbols": {"update": {"strokeWidth": {"signal": "datum.value === 'Media' ? 3.5 : datum.value === '+ - D.E.' ? 2 : 1.5"}, "strokeDash": {"signal": "datum.value === '+ - D.E.' ? [4,2] : [1,0]"}, "fill": {"signal": "datum.value === 'Media' ? '#0070C0' : datum.value === '+ - D.E.' ? '#BF9000' : '#B0B0B0'"}, "fillOpacity": {"value": 1}}}}}}
         }},
        {"data": {"name": "gB"}, "mark": {"type": "point", "filled": true, "size": 13, "color": "#B0B0B0", "opacity": 1},
         "encoding": {"x": {"field": "x", "type": "quantitative", "scale": {"domain": [0, 0.0007], "nice": false, "zero": false}}, "y": {"field": "y", "type": "quantitative", "scale": {"domain": [0, 0.8], "nice": false}}}},
        {"data": {"name": "eB"}, "mark": {"type": "rule", "color": "#7F7F7F", "strokeWidth": 1},
         "encoding": {"x": {"field": "xlo", "type": "quantitative", "scale": {"domain": [0, 0.0007], "nice": false, "zero": false}}, "x2": {"field": "xhi"}, "y": {"field": "y", "type": "quantitative", "scale": {"domain": [0, 0.8], "nice": false}}}},
        {"data": {"name": "eB"}, "mark": {"type": "rule", "color": "#7F7F7F", "strokeWidth": 1},
         "encoding": {"x": {"field": "x", "type": "quantitative", "scale": {"domain": [0, 0.0007], "nice": false, "zero": false}}, "y": {"field": "ylo", "type": "quantitative", "scale": {"domain": [0, 0.8], "nice": false}}, "y2": {"field": "yhi"}}},
        {"data": {"name": "eB"}, "mark": {"type": "tick", "orient": "vertical", "color": "#7F7F7F", "size": 6, "thickness": 1},
         "encoding": {"x": {"field": "xlo", "type": "quantitative", "scale": {"domain": [0, 0.0007], "nice": false, "zero": false}}, "y": {"field": "y", "type": "quantitative", "scale": {"domain": [0, 0.8], "nice": false}}}},
        {"data": {"name": "eB"}, "mark": {"type": "tick", "orient": "vertical", "color": "#7F7F7F", "size": 6, "thickness": 1},
         "encoding": {"x": {"field": "xhi", "type": "quantitative", "scale": {"domain": [0, 0.0007], "nice": false, "zero": false}}, "y": {"field": "y", "type": "quantitative", "scale": {"domain": [0, 0.8], "nice": false}}}},
        {"data": {"name": "eB"}, "mark": {"type": "tick", "orient": "horizontal", "color": "#7F7F7F", "size": 6, "thickness": 1},
         "encoding": {"x": {"field": "x", "type": "quantitative", "scale": {"domain": [0, 0.0007], "nice": false, "zero": false}}, "y": {"field": "ylo", "type": "quantitative", "scale": {"domain": [0, 0.8], "nice": false}}}},
        {"data": {"name": "eB"}, "mark": {"type": "tick", "orient": "horizontal", "color": "#7F7F7F", "size": 6, "thickness": 1},
         "encoding": {"x": {"field": "x", "type": "quantitative", "scale": {"domain": [0, 0.0007], "nice": false, "zero": false}}, "y": {"field": "yhi", "type": "quantitative", "scale": {"domain": [0, 0.8], "nice": false}}}},
        {"data": {"name": "dB"}, "mark": {"type": "line", "color": "#000000", "strokeWidth": 2.2, "strokeDash": [6, 3]},
         "encoding": {"x": {"field": "x", "type": "quantitative", "scale": {"domain": [0, 0.0007], "nice": false, "zero": false}}, "y": {"field": "y", "type": "quantitative", "scale": {"domain": [0, 0.8], "nice": false}}, "detail": {"field": "s", "type": "nominal"}}},
        {"data": {"name": "dB"}, "transform": [{"filter": "datum.s === 'up'"}], "mark": {"type": "point", "filled": true, "size": 22, "fill": "#BF9000", "stroke": "#111111", "strokeWidth": 1, "opacity": 1},
         "encoding": {"x": {"field": "x", "type": "quantitative", "scale": {"domain": [0, 0.0007], "nice": false, "zero": false}}, "y": {"field": "y", "type": "quantitative", "scale": {"domain": [0, 0.8], "nice": false}}}},
        {"data": {"name": "dB"}, "transform": [{"filter": "datum.s === 'lo'"}], "mark": {"type": "point", "filled": true, "size": 24, "color": "#000000", "opacity": 1},
         "encoding": {"x": {"field": "x", "type": "quantitative", "scale": {"domain": [0, 0.0007], "nice": false, "zero": false}}, "y": {"field": "y", "type": "quantitative", "scale": {"domain": [0, 0.8], "nice": false}}}},
        {"data": {"name": "mB"}, "mark": {"type": "line", "color": "#0070C0", "strokeWidth": 3.2},
         "encoding": {"x": {"field": "x", "type": "quantitative", "scale": {"domain": [0, 0.0007], "nice": false, "zero": false}}, "y": {"field": "y", "type": "quantitative", "scale": {"domain": [0, 0.8], "nice": false}}}},
        {"data": {"name": "mB"}, "mark": {"type": "point", "filled": true, "size": 32, "color": "#0070C0", "opacity": 1},
         "encoding": {"x": {"field": "x", "type": "quantitative", "scale": {"domain": [0, 0.0007], "nice": false, "zero": false}}, "y": {"field": "y", "type": "quantitative", "scale": {"domain": [0, 0.8], "nice": false}}}}
      ]
    },
    {
      "width": 507, "height": 1,
      "data": {"values": []},
      "mark": "point",
      "title": {"text": "a)", "fontSize": 22, "fontWeight": "normal", "dx": 38, "offset": 0}
    },
    {
      "width": 502, "height": 1,
      "data": {"values": []},
      "mark": "point",
      "title": {"text": "b)", "fontSize": 22, "fontWeight": "normal", "dx": 28, "dy": 6, "offset": 0}
    }
  ]
}
